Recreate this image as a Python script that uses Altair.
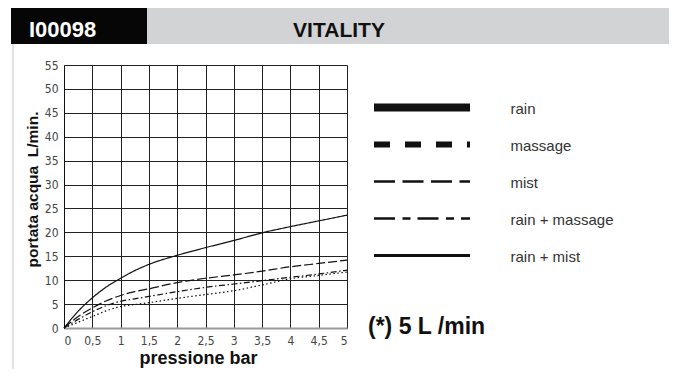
import altair as alt
import pandas as pd

# ---------------- data ----------------
pressure = [0, 0.25, 0.5, 0.75, 1, 1.25, 1.5, 2, 2.5, 3, 3.5, 4, 4.5, 5]
series_names = ["rain + mist", "mist", "rain + massage", "massage"]
rain_mist = [0, 3.5, 6.3, 8.6, 10.4, 12.0, 13.3, 15.2, 16.8, 18.3, 19.9, 21.2, 22.4, 23.6]
mist = [0, 2.4, 4.2, 5.7, 6.8, 7.6, 8.2, 9.5, 10.4, 11.1, 11.9, 12.8, 13.5, 14.2]
rain_massage = [0, 1.8, 3.4, 4.7, 5.6, 6.1, 6.6, 7.6, 8.5, 9.2, 9.9, 10.6, 11.3, 12.1]
massage = [0, 1.2, 2.4, 3.6, 4.5, 4.9, 5.3, 6.2, 7.0, 7.8, 9.0, 10.3, 11.0, 11.7]

legend_names = ["rain", "massage", "mist", "rain + massage", "rain + mist"]
x_ticks = [0, 0.5, 1, 1.5, 2, 2.5, 3, 3.5, 4, 4.5, 5]
y_ticks = [0, 5, 10, 15, 20, 25, 30, 35, 40, 45, 50, 55]

header_code = "I00098"
header_title = "VITALITY"
note_text = "(*) 5 L /min"
x_title = "pressione bar"
y_title = "portata acqua\u00a0\u00a0L/min."

# ---------------- tables ----------------
rows = []
for name, vals in zip(series_names, [rain_mist, mist, rain_massage, massage]):
    for p, v in zip(pressure, vals):
        rows.append({"series": name, "p": p, "q": v})
df = pd.DataFrame(rows)
leg_df = pd.DataFrame({"name": legend_names})
hdr = pd.DataFrame({"code": [header_code], "title": [header_title]})

NARROW = "Liberation Sans Narrow, DejaVu Sans Condensed, Arial Narrow, sans-serif"
SANS = "Liberation Sans, Arial, Helvetica, sans-serif"

curves = alt.Chart(df).mark_line(color="#111", strokeWidth=1.2, interpolate="monotone").encode(
    x=alt.X("p:Q", scale=alt.Scale(domain=[0, 5], nice=False),
            axis=alt.Axis(values=x_ticks, title=x_title,
                          labelExpr="replace(format(datum.value, ''), '.', ',')",
                          ticks=False, labelPadding=7, labelFont=NARROW, labelFontSize=12,
                          labelColor="#444", grid=True, gridColor="#222", gridOpacity=1, gridWidth=1,
                          domainColor="#999", domainWidth=2,
                          titleFont=SANS, titleFontSize=18, titleFontWeight="bold", titleColor="#111",
                          titleX=134, titleY=35, titleAlign="center", titleBaseline="alphabetic")),
    y=alt.Y("q:Q", scale=alt.Scale(domain=[0, 55], nice=False),
            axis=alt.Axis(values=y_ticks, title=y_title, ticks=False, labelPadding=6,
                          labelFont=NARROW, labelFontSize=12, labelColor="#444",
                          grid=True, gridColor="#222", gridOpacity=1, gridWidth=1,
                          domainColor="#111", domainWidth=1,
                          titleFont=SANS, titleFontSize=15.5, titleFontWeight="bold", titleColor="#111",
                          titleX=-32, titleY=124, titleAngle=270, titleAlign="center",
                          titleBaseline="middle")),
    strokeDash=alt.StrokeDash("series:N", scale=alt.Scale(
        domain=series_names, range=[[1, 0], [9, 3], [6, 2.5, 1.5, 2.5], [1.5, 2.5]]), legend=None),
    detail="series:N",
)

leg_y = alt.Y("name:N", sort=legend_names,
              scale=alt.Scale(type="point", domain=legend_names, range=[42.5, 190.5], padding=0),
              axis=None)

legend_rules = alt.Chart(leg_df).mark_rule(color="#111", strokeCap="butt").encode(
    x=alt.value(310), x2=alt.value(406),
    y=leg_y,
    strokeDash=alt.StrokeDash("name:N", scale=alt.Scale(
        domain=legend_names,
        range=[[1, 0], [16, 15], [21, 7.5], [21, 7.5, 8, 7], [1, 0]]), legend=None),
    strokeWidth=alt.StrokeWidth("name:N", scale=alt.Scale(
        type="ordinal", domain=legend_names, range=[8, 6, 2.7, 2.7, 3]), legend=None),
)

legend_labels = alt.Chart(leg_df).mark_text(
    align="left", baseline="middle", font=SANS, fontSize=15, color="#333", dy=1.5
).encode(x=alt.value(446.5), y=leg_y, text="name:N")

black_box = alt.Chart(hdr).mark_rect(color="#060606").encode(
    x=alt.value(-53), x2=alt.value(83), y=alt.value(-59), y2=alt.value(-21))
grey_box = alt.Chart(hdr).mark_rect(color="#d2d3d5").encode(
    x=alt.value(83), x2=alt.value(620), y=alt.value(-59), y2=alt.value(-21))
side_line = alt.Chart(hdr).mark_rule(color="#e2e2e2", strokeWidth=2).encode(
    x=alt.value(-51), y=alt.value(-21), y2=alt.value(320))
code_text = alt.Chart(hdr).mark_text(
    align="left", baseline="alphabetic", font=SANS, fontSize=22, fontWeight="bold", color="white"
).encode(x=alt.value(-35), y=alt.value(-28), text="code:N")
title_text = alt.Chart(hdr).mark_text(
    align="center", baseline="alphabetic", font=SANS, fontSize=21, fontWeight="bold", color="#111"
).encode(x=alt.value(275), y=alt.value(-28), text="title:N")
note = alt.Chart(hdr).mark_text(
    text=note_text, align="left", baseline="alphabetic", font=SANS, fontSize=23,
    fontWeight="bold", color="#111"
).encode(x=alt.value(304), y=alt.value(269))

chart = alt.layer(
    black_box, grey_box, side_line, code_text, title_text,
    curves, legend_rules, legend_labels, note
).resolve_scale(
    y="independent", strokeDash="independent", strokeWidth="independent"
).properties(
    width=283, height=263,
    autosize=alt.AutoSizeParams(type="none"),
    padding={"left": 56, "top": 57, "right": 322, "bottom": 41},
    background="white",
).configure_view(stroke=None)

chart.save("out.html", embed_options={"renderer": "svg", "actions": False})
